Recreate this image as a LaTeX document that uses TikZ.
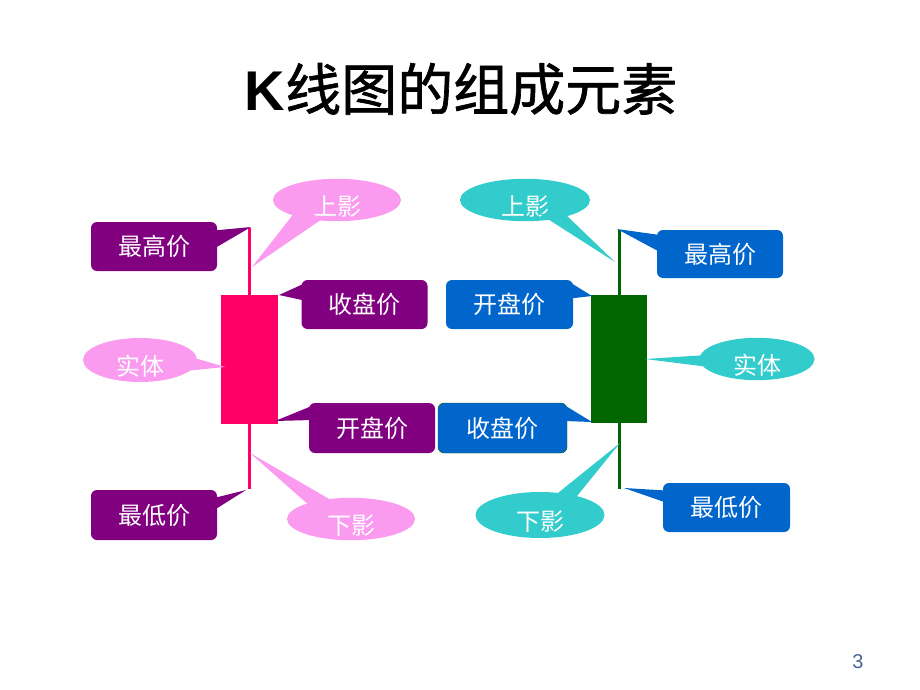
\documentclass[tikz,border=0pt]{standalone}
\usepackage{fontspec}
\setmainfont{Liberation Sans}
\newfontfamily\cjk{Noto Sans CJK SC}
\newfontfamily\cjktitle[FakeBold=1.2]{Noto Sans CJK SC}
\usetikzlibrary{shapes.geometric}

\definecolor{candlepink}{RGB}{255,0,102}
\definecolor{candlegreen}{RGB}{0,102,0}
\definecolor{purp}{RGB}{128,0,128}
\definecolor{boxblue}{RGB}{0,102,204}
\definecolor{pinkbub}{RGB}{250,155,240}
\definecolor{tealbub}{RGB}{51,204,204}
\definecolor{pagenum}{RGB}{70,100,150}

\begin{document}
\begin{tikzpicture}[x=1pt,y=-1pt,line join=round,
    pricebox/.style={rounded corners=6pt,inner sep=0pt,minimum width=126pt,
        minimum height=49pt,text=white,font=\cjk\fontsize{24}{24}\selectfont},
    bubble/.style={ellipse,inner sep=0pt,text=white,text height=30pt,text depth=0pt,
        font=\cjk\fontsize{24}{24}\selectfont}]
    \useasboundingbox (0,0) rectangle (920,690);

    % Título
    \node (title) at (461,89)
        {\fontsize{56}{56}\selectfont{\bfseries K}{\cjktitle 线图的组成元素}};

    % Velas: mecha y cuerpo
    \draw[candlepink,line width=3pt] (249.5,228) -- (249.5,489);
    \fill[candlepink] (221,295) rectangle (278,424);
    \draw[candlegreen,line width=3pt] (619,230) -- (619,489);
    \fill[candlegreen] (591,295) rectangle (647,423);

    % Puntas de las flechas
    \coordinate (tHiL) at (251,227);
    \coordinate (tClL) at (279,295);
    \coordinate (tOpL) at (275,421);
    \coordinate (tLoL) at (246,490);
    \coordinate (tHiR) at (617,229);
    \coordinate (tOpR) at (592,296);
    \coordinate (tClR) at (592,422);
    \coordinate (tLoR) at (624,488);
    \coordinate (tUsL) at (252,267);
    \coordinate (tStL) at (225,367);
    \coordinate (tDsL) at (250,453);
    \coordinate (tUsR) at (615,262);
    \coordinate (tStR) at (645,359);
    \coordinate (tDsR) at (620,443);

    % Cajas de precios
    \node[pricebox,fill=purp] (hiL) at (154,246.5) {最高价};
    \node[pricebox,fill=purp] (clL) at (364.5,304.5) {收盘价};
    \node[pricebox,fill=purp,minimum height=50pt] (opL) at (372,428) {开盘价};
    \node[pricebox,fill=purp,minimum height=50pt] (loL) at (154,515) {最低价};
    \node[pricebox,fill=boxblue,minimum height=48pt] (hiR) at (720,254) {最高价};
    \node[pricebox,fill=boxblue,minimum width=127pt] (opR) at (509.5,304.5) {开盘价};
    \node[pricebox,fill=boxblue,draw=candlegreen,minimum width=129pt,
        minimum height=50pt] (clR) at (502.5,428) {收盘价};
    \node[pricebox,fill=boxblue,minimum width=127pt] (loR) at (726.5,507.5) {最低价};

    \foreach \b/\t/\c/\s/\dx/\a/\d in {hiL/tHiL/purp/east/-3/-16/2,
        clL/tClL/purp/west/3/-21/-4, opL/tOpL/purp/west/3/-22/-8,
        loL/tLoL/purp/east/-3/-17/-5, hiR/tHiR/boxblue/west/3/-19/-2,
        opR/tOpR/boxblue/east/-3/-22/-6, clR/tClR/boxblue/east/-3/-23/-7,
        loR/tLoR/boxblue/west/3/-17/-5} {
        \fill[\c] ([shift={(\dx,\a)}]\b.\s) -- (\t) -- ([shift={(\dx,\d)}]\b.\s) -- cycle;
    }

    % Globos de sombra y cuerpo
    \node[bubble,fill=pinkbub,minimum width=128pt,minimum height=40pt] (usL) at (337,200) {上影};
    \node[bubble,fill=pinkbub,minimum width=114pt,minimum height=44pt] (stL) at (140,360) {实体};
    \node[bubble,fill=pinkbub,minimum width=128pt,minimum height=42pt] (dsL) at (351,519) {下影};
    \node[bubble,fill=tealbub,minimum width=130pt,minimum height=42pt] (usR) at (525,200) {上影};
    \node[bubble,fill=tealbub,minimum width=115pt,minimum height=42pt] (stR) at (757,359) {实体};
    \node[bubble,fill=tealbub,minimum width=129pt,minimum height=46pt] (dsR) at (540,515) {下影};

    \foreach \b/\t/\c/\p/\q in {usL/tUsL/pinkbub/{-42,12}/{-12,17},
        stL/tStL/pinkbub/{48,-4}/{45,11}, dsL/tDsL/pinkbub/{-40,-12}/{-15,-16},
        usR/tUsR/tealbub/{15,14}/{38,12}, stR/tStR/tealbub/{-50,-4}/{-48,8},
        dsR/tDsR/tealbub/{8,-14}/{33,-14}} {
        \fill[\c] ([shift={(\p)}]\b.center) -- (\t) -- ([shift={(\q)}]\b.center) -- cycle;
    }

    % Número de página
    \node[pagenum] (page) at (858,662) {\fontsize{20}{20}\selectfont 3};
\end{tikzpicture}
\end{document}
